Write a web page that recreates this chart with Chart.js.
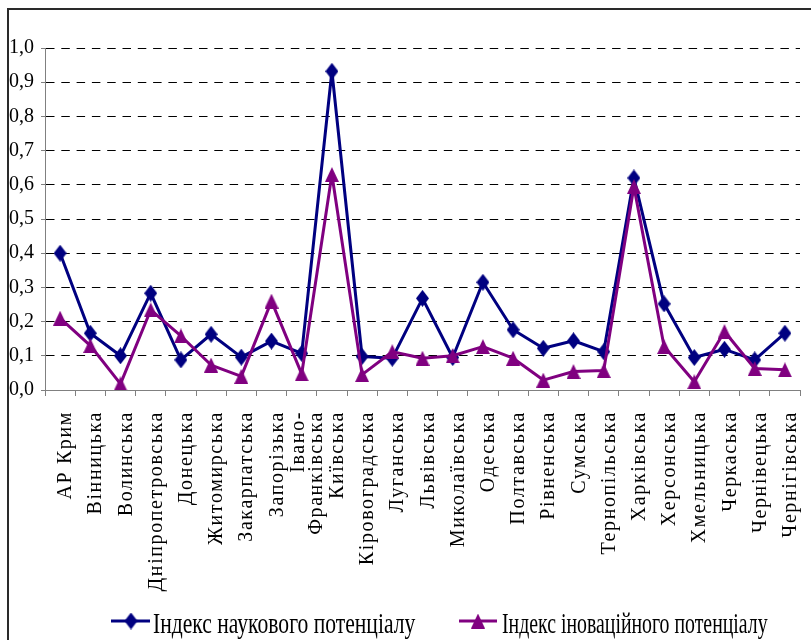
<!DOCTYPE html>
<html>
<head>
<meta charset="utf-8">
<script src="https://cdn.jsdelivr.net/npm/chart.js@4.4.1/dist/chart.umd.min.js"></script>
<style>
  html, body { margin: 0; padding: 0; background: #fff; }
  #wrap { position: relative; width: 811px; height: 640px; }
</style>
</head>
<body>
<div id="wrap"><canvas id="chart"></canvas></div>
<script>
// regions of Ukraine (one label is split over two lines, as in the source)
const regions = ['АР Крим', 'Вінницька', 'Волинська', 'Дніпропетровська', 'Донецька',
  'Житомирська', 'Закарпатська', 'Запорізька', ['Івано-', 'Франківська'], 'Київська',
  'Кіровоградська', 'Луганська', 'Львівська', 'Миколаївська', 'Одеська', 'Полтавська',
  'Рівненська', 'Сумська', 'Тернопільська', 'Харківська', 'Херсонська', 'Хмельницька',
  'Черкаська', 'Чернівецька', 'Чернігівська'];
const scienceIndex = [0.40, 0.166, 0.10, 0.283, 0.088, 0.163, 0.096, 0.143, 0.107, 0.932,
  0.098, 0.093, 0.268, 0.095, 0.315, 0.176, 0.122, 0.144, 0.112, 0.62, 0.252, 0.095,
  0.119, 0.088, 0.166];
const innovIndex = [0.21, 0.13, 0.018, 0.234, 0.158, 0.073, 0.04, 0.26, 0.047, 0.63,
  0.045, 0.112, 0.093, 0.10, 0.127, 0.093, 0.029, 0.054, 0.057, 0.595, 0.127, 0.024,
  0.171, 0.063, 0.059];
const seriesNames = ['Індекс наукового потенціалу', 'Індекс іноваційного потенціалу'];
const yMin = 0, yMax = 1, yStep = 0.1;

const NAVY = '#000080', PURPLE = '#800080', AXIS = '#808080';
const SERIF = '"Liberation Serif", "Times New Roman", serif';

// small bitmaps so markers come out a bit taller than wide, like the source
function marker(w, h, color, shape) {
  const c = document.createElement('canvas');
  c.width = w; c.height = h;
  const g = c.getContext('2d');
  g.fillStyle = color;
  g.beginPath();
  if (shape === 'diamond') {
    g.moveTo(w / 2, 0); g.lineTo(w, h / 2); g.lineTo(w / 2, h); g.lineTo(0, h / 2);
  } else {
    g.moveTo(w / 2, 0); g.lineTo(w, h); g.lineTo(0, h);
  }
  g.closePath();
  g.fill();
  return c;
}
const diamond = marker(13, 17, NAVY, 'diamond');
const triangle = marker(14, 15, PURPLE, 'triangle');

// outer frame of the figure (only left and top edges are visible)
const framePlugin = {
  id: 'frame',
  beforeDraw(chart) {
    const ctx = chart.ctx;
    ctx.save();
    ctx.strokeStyle = '#2a2a2a';
    ctx.lineWidth = 2;
    ctx.strokeRect(8, 9, 1000, 1000);
    ctx.restore();
  }
};

// vertical category labels, letter-spaced like the Excel original
const xLabelPlugin = {
  id: 'xLabels',
  afterDraw(chart) {
    const ctx = chart.ctx, xs = chart.scales.x;
    const top = xs.top + 21, lh = 18;
    ctx.save();
    ctx.font = '20px ' + SERIF;
    ctx.fillStyle = '#000';
    ctx.letterSpacing = '1.6px';
    ctx.textAlign = 'right';
    ctx.textBaseline = 'alphabetic';
    regions.forEach((lab, i) => {
      const lines = Array.isArray(lab) ? lab : [lab];
      const px = xs.getPixelForValue(i);
      lines.forEach((ln, j) => {
        ctx.save();
        ctx.translate(px + 11 + (j - (lines.length - 1) / 2) * lh, top);
        ctx.rotate(-Math.PI / 2);
        ctx.fillText(ln, 0, 0);
        ctx.restore();
      });
    });
    ctx.restore();
  }
};

// legend: line + marker, condensed serif text
const legendPlugin = {
  id: 'lineLegend',
  afterDraw(chart) {
    const ctx = chart.ctx;
    const items = [
      { x0: 111, x1: 150, mx: 131, tx: 153, sx: 0.72, ds: chart.data.datasets[0] },
      { x0: 459, x1: 497, mx: 478, tx: 502, sx: 0.66, ds: chart.data.datasets[1] }
    ];
    const y = 621;
    ctx.save();
    items.forEach(it => {
      ctx.strokeStyle = it.ds.borderColor;
      ctx.lineWidth = 3;
      ctx.beginPath();
      ctx.moveTo(it.x0, y);
      ctx.lineTo(it.x1, y);
      ctx.stroke();
      const img = it.ds.pointStyle;
      ctx.drawImage(img, it.mx - img.width / 2, y - img.height / 2);
      ctx.save();
      ctx.translate(it.tx, 633);
      ctx.scale(it.sx, 1);
      ctx.font = '30px ' + SERIF;
      ctx.fillStyle = '#000';
      ctx.textAlign = 'left';
      ctx.fillText(it.ds.label, 0, 0);
      ctx.restore();
    });
    ctx.restore();
  }
};

new Chart(document.getElementById('chart'), {
  type: 'line',
  data: {
    labels: regions,
    datasets: [
      {
        label: seriesNames[0],
        data: scienceIndex,
        borderColor: NAVY,
        backgroundColor: NAVY,
        borderWidth: 3,
        borderJoinStyle: 'round',
        pointStyle: diamond,
        pointRadius: 7,
        order: 1
      },
      {
        label: seriesNames[1],
        data: innovIndex,
        borderColor: PURPLE,
        backgroundColor: PURPLE,
        borderWidth: 3,
        borderJoinStyle: 'round',
        pointStyle: triangle,
        pointRadius: 7,
        order: 0
      }
    ]
  },
  options: {
    responsive: true,
    maintainAspectRatio: false,
    animation: false,
    layout: { padding: { top: 48, right: 11, bottom: 0, left: 0 } },
    plugins: { legend: { display: false }, tooltip: { enabled: false } },
    scales: {
      x: {
        offset: true,
        grid: { drawOnChartArea: false, drawTicks: true, tickLength: 6, tickColor: AXIS, offset: true },
        border: { color: AXIS, width: 1 },
        ticks: { display: false, autoSkip: false },
        afterFit(s) { s.height = 250; }
      },
      y: {
        min: yMin,
        max: yMax,
        grid: {
          color: c => (c.tick && c.tick.value === 0 ? 'rgba(0,0,0,0)' : '#000'),
          tickColor: AXIS,
          tickLength: 4
        },
        border: { color: AXIS, width: 1, dash: [8.5, 6.8] },
        ticks: {
          stepSize: yStep,
          color: '#000',
          padding: 7,
          font: { family: SERIF, size: 20 },
          callback: v => v.toFixed(1).replace('.', ',')
        },
        afterFit(s) { s.width = 45; }
      }
    }
  },
  plugins: [framePlugin, xLabelPlugin, legendPlugin]
});
</script>
</body>
</html>
